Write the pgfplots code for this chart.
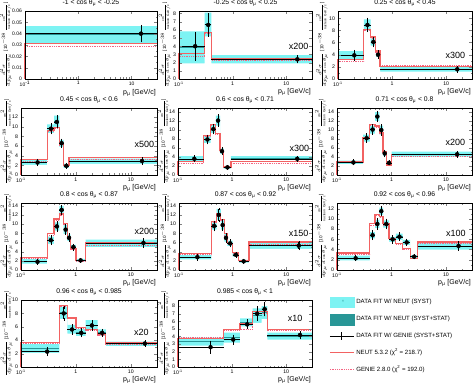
\documentclass[border=0pt]{standalone}
\usepackage{pgfplots}
\pgfplotsset{compat=1.18}
\usepackage{pgfplotstable}
\usepackage{fontspec}
\setmainfont{Liberation Sans}
\definecolor{cyanbox}{RGB}{125,243,243}
\definecolor{tealbox}{RGB}{40,150,150}
\definecolor{neutred}{RGB}{242,98,98}
\definecolor{geniered}{RGB}{245,100,130}

% columns: x (bin low edge) neut genie hi lo g  ; first row = start of red step at 0
\pgfplotstableread{
x neut genie hi lo g
0.1 0 0 nan nan nan
0.1 0.0315 0.0285 0.0467 0.0322 0.040
30 0.0315 0.0285 0.0467 0.0322 0.040
}\tA
\pgfplotstableread{
px g e
15 0.040 0.0066
}\pA
\pgfplotstableread{
x neut genie hi lo g
0.1 0 0 nan nan nan
0.1 3.1 2.7 5.8 1.9 4.0
0.3 5.7 5.6 8.1 5.2 6.7
0.4 2.5 2.3 2.9 1.9 2.4
30 2.5 2.3 2.9 1.9 2.4
}\tB
\pgfplotstableread{
px g e
0.2 4.0 1.6
0.35 6.6 1.3
16 2.4 0.35
}\pB
\pgfplotstableread{
x neut genie hi lo g
0.1 0 0 nan nan nan
0.1 3.2 2.9 4.6 3.1 3.9
0.3 8.2 8.0 9.8 8.0 8.9
0.4 6.9 6.7 6.7 5.5 6.1
0.5 4.6 4.4 4.5 3.6 4.0
0.6 2.1 2.2 2.0 1.2 1.6
30 2.1 2.2 2.0 1.2 1.6
}\tC
\pgfplotstableread{
px g e
0.2 3.9 0.7
0.35 8.9 1.0
0.45 6.1 0.7
0.55 4.0 0.5
16 1.6 0.35
}\pC
\pgfplotstableread{
x neut genie hi lo g
0.1 0 0 nan nan nan
0.1 3.2 2.9 3.1 2.1 2.6
0.3 9.2 9.0 10.5 8.7 9.6
0.4 9.9 9.7 12.3 10.0 11.0
0.5 6.3 6.1 7.3 5.8 6.6
0.6 1.9 1.8 2.3 1.5 1.9
0.75 3.6 3.3 3.4 2.3 2.9
30 3.6 3.3 3.4 2.3 2.9
}\tD
\pgfplotstableread{
px g e
0.2 2.6 0.5
0.35 9.6 0.9
0.45 11.0 1.1
0.55 6.6 0.7
0.67 1.9 0.35
16 2.9 0.5
}\pD
\pgfplotstableread{
x neut genie hi lo g
0.1 0 0 nan nan nan
0.1 3.0 2.6 4.2 2.9 3.6
0.3 8.8 8.5 8.8 7.1 7.9
0.4 11.3 11.0 11.1 9.3 10.2
0.5 9.3 9.0 13.2 11.0 12.1
0.6 5.5 5.3 5.9 4.7 5.3
0.7 1.8 1.7 2.0 1.4 1.7
0.95 3.0 2.5 4.2 3.3 3.6
30 3.0 2.5 4.2 3.3 3.6
}\tE
\pgfplotstableread{
px g e
0.2 3.6 0.5
0.35 7.9 0.8
0.45 10.2 0.9
0.55 12.1 1.1
0.65 5.3 0.6
0.82 1.7 0.3
16 3.6 0.4
}\pE
\pgfplotstableread{
x neut genie hi lo g
0.1 0 0 nan nan nan
0.1 2.9 2.7 3.2 2.4 2.8
0.3 8.4 8.2 9.0 7.4 8.2
0.4 11.3 11.0 11.0 9.2 10.1
0.5 10.9 10.6 14.0 12.0 13.0
0.6 9.5 9.2 11.0 9.0 10.0
0.7 5.1 5.0 5.4 4.2 4.8
0.8 2.2 2.1 3.0 2.4 2.7
1.0 4.5 4.1 5.2 4.1 4.6
30 4.5 4.1 5.2 4.1 4.6
}\tF
\pgfplotstableread{
px g e
0.2 2.8 0.4
0.35 8.2 0.8
0.45 10.1 0.9
0.55 13.0 1.0
0.65 10.0 1.0
0.75 4.8 0.6
0.9 2.7 0.3
16 4.6 0.5
}\pF
\pgfplotstableread{
x neut genie hi lo g
0.1 0 0 nan nan nan
0.1 2.7 2.5 2.4 1.4 1.8
0.3 7.9 7.6 7.3 5.7 6.5
0.4 11.1 10.8 10.4 8.6 9.5
0.5 12.2 12.0 14.0 12.2 13.1
0.6 10.2 10.0 9.8 7.8 8.8
0.7 7.3 7.1 7.7 6.3 7.0
0.8 4.7 4.5 5.5 4.5 5.0
1.0 2.0 1.9 2.4 1.8 2.1
1.5 6.0 5.4 6.6 5.0 5.9
30 6.0 5.4 6.6 5.0 5.9
}\tG
\pgfplotstableread{
px g e
0.2 1.8 0.4
0.35 6.5 0.8
0.45 9.5 0.9
0.55 13.1 0.9
0.65 8.8 0.9
0.75 7.0 0.7
0.9 5.0 0.5
1.22 2.1 0.3
17 5.9 0.8
}\pG
\pgfplotstableread{
x neut genie hi lo g
0.1 0 0 nan nan nan
0.1 3.6 3.3 3.3 2.3 2.8
0.4 10.6 10.3 10.4 8.8 9.6
0.5 12.2 12.0 13.3 10.9 12.0
0.6 11.0 10.7 10.8 8.8 9.8
0.7 7.9 7.6 7.8 6.2 7.0
0.8 5.8 5.6 6.4 5.2 5.8
1.0 3.8 3.7 3.7 2.9 3.3
1.3 2.0 1.9 2.2 1.6 1.9
2.0 6.1 5.6 6.0 4.6 5.3
30 6.1 5.6 6.0 4.6 5.3
}\tH
\pgfplotstableread{
px g e
0.22 2.8 0.5
0.45 9.6 0.9
0.55 12.0 1.3
0.65 9.8 1.0
0.75 7.0 0.8
0.9 5.8 0.6
1.15 3.3 0.4
1.6 1.9 0.3
17 5.3 0.7
}\pH
\pgfplotstableread{
x neut genie hi lo g
0.1 0 0 nan nan nan
0.1 3.3 3.1 2.8 1.9 2.3
0.4 9.1 8.8 7.4 6.2 6.8
0.5 10.9 10.6 9.8 8.2 9.0
0.6 10.5 10.2 12.2 10.8 11.5
0.7 9.1 8.8 9.7 8.3 9.0
0.9 6.2 6.0 6.5 5.5 6.0
1.2 5.2 5.0 7.1 5.9 6.5
1.6 4.2 4.1 5.9 4.9 5.4
2.2 2.3 2.3 2.9 2.3 2.6
3.0 5.5 5.2 5.4 4.0 4.7
30 5.5 5.2 5.4 4.0 4.7
}\tI
\pgfplotstableread{
px g e
0.22 2.3 0.35
0.45 6.8 0.7
0.55 9.0 0.9
0.65 11.5 0.8
0.8 9.0 0.8
1.05 6.0 0.6
1.4 6.5 0.6
1.9 5.4 0.5
2.6 2.6 0.3
17 4.7 0.7
}\pI
\pgfplotstableread{
x neut genie hi lo g
0.1 0 0 nan nan nan
0.1 3.7 3.5 3.4 2.1 2.3
0.5 9.2 9.0 9.0 7.2 8.0
0.7 7.3 7.2 6.3 5.0 5.6
1.0 5.9 5.8 5.7 4.6 5.1
1.5 5.6 5.5 7.0 5.5 6.2
2.5 4.8 4.7 5.6 4.6 5.1
3.5 3.6 3.4 3.8 3.1 3.5
30 3.6 3.4 3.8 3.1 3.5
}\tJ
\pgfplotstableread{
px g e
0.3 2.3 0.5
0.6 8.0 0.9
0.85 5.6 0.6
1.25 5.1 0.5
1.95 6.2 0.6
3.0 5.1 0.4
18 3.5 0.3
}\pJ
\pgfplotstableread{
x neut genie hi lo g
0.1 0 0 nan nan nan
0.1 3.7 3.9 3.85 2.8 2.6
0.7 4.9 4.8 4.5 3.2 3.6
1.4 5.75 5.0 6.4 5.35 5.6
2.4 7.25 7.1 7.7 5.8 7.0
3.5 7.25 7.1 8.0 6.3 7.6
4.5 4.9 4.8 4.5 3.6 4.2
30 4.9 4.8 4.5 3.6 4.2
}\tK
\pgfplotstableread{
px g e
0.4 2.6 0.7
1.05 3.6 0.5
1.9 5.6 0.5
2.9 7.0 0.8
4.0 7.6 0.8
18 4.2 0.4
}\pK

\newcommand\beginpanel[1]{%
\begin{axis}[scale only axis, anchor=north west, xmode=log, xmin=0.1, xmax=30, ymin=0,
    axis on top, scaled y ticks=false, clip=false,
    xtick={0.1,1,10}, xticklabels={10\textsuperscript{-1},1,10},
    minor xtick={0.2,0.3,0.4,0.5,0.6,0.7,0.8,0.9,2,3,4,5,6,7,8,9,20,30},
    xtick pos=both, ytick pos=both,
    tick align=inside, major tick length=3pt, minor tick length=1.5pt,
    minor y tick num=1,
    tick label style={font=\fontsize{5.2}{6}\selectfont},
    xticklabel style={yshift=1pt},
    yticklabel style={xshift=0.5pt},
    /pgf/number format/assume math mode=true,
    axis line style={line width=0.5pt},
    title style={font=\fontsize{6.8}{7}\selectfont, yshift=-4.5pt},
    xlabel={p\textsubscript{μ} [GeV/c]},
    xlabel style={font=\fontsize{7}{8}\selectfont, at={(ticklabel cs:1)}, anchor=north east, inner sep=1pt, yshift=2pt},
    #1]}
\newcommand\fac[2]{\node[font=\fontsize{9}{10}\selectfont, anchor=east, inner sep=0pt] at (rel axis cs:#1) {#2};}
\newcommand\ylab[1]{\node[rotate=90, anchor=south, inner sep=0pt, font=\fontsize{4.6}{5}\selectfont] at (axis description cs:#1,0.5)
  {$\frac{d^{2}\sigma}{dp_{\mu}\,d\cos\theta_{\mu}}$ [10$^{-38}$ $\frac{\mathrm{cm}^{2}}{\mathrm{nucleon\;GeV/c}}$]};}

\newcommand\drawpanel[2]{%
  \addplot[ybar interval, fill=cyanbox, draw=none, skip coords between index={0}{1}] table[x=x,y=hi]{#1};
  \addplot[ybar interval, fill=white, draw=none, skip coords between index={0}{1}] table[x=x,y=lo]{#1};
  \addplot[tealbox, line width=0.9pt, jump mark left, skip coords between index={0}{1}] table[x=x,y expr=(\thisrow{hi}+\thisrow{lo})/2]{#1};
  \addplot[geniered, densely dotted, line width=0.8pt, const plot] table[x=x,y=genie]{#1};
  \addplot[neutred, line width=1.3pt, const plot] table[x=x,y=neut]{#1};
  \addplot[black, line width=0.5pt, jump mark left, skip coords between index={0}{1}] table[x=x,y=g]{#1};
  \addplot[black, only marks, mark=none, error bars/.cd, y dir=both, y explicit, error mark=-, error mark options={black, mark size=1.2pt, line width=0.4pt}, error bar style={line width=0.6pt}] table[x=px,y=g,y error=e]{#2};
}

\begin{document}
\begin{tikzpicture}
\useasboundingbox (0,0) rectangle (474pt,-385pt);

% Row 1
\beginpanel{at={(25pt,-11pt)}, width=132pt, height=68pt,
  ymax=0.06, ytick={0,0.01,0.02,0.03,0.04,0.05,0.06}, yticklabels={0,0.01,0.02,0.03,0.04,0.05,0.06},
  tick label style={font=\fontsize{5}{6}\selectfont},
  title={-1 < cos θ\textsubscript{μ} < -0.25}}
\drawpanel{\tA}{\pA}
\ylab{-0.098}
\end{axis}

\beginpanel{at={(179pt,-11pt)}, width=133pt, height=68pt,
  ymax=8.3, ytick={0,1,...,8}, minor y tick num=0,
  title={-0.25 < cos θ\textsubscript{μ} < 0.25}}
\drawpanel{\tB}{\pB}
\fac{0.975,0.48}{x200}
\ylab{-0.06}
\end{axis}

\beginpanel{at={(338pt,-11pt)}, width=134pt, height=68pt,
  ymax=11.2, ytick={0,2,...,10},
  title={0.25 < cos θ\textsubscript{μ} < 0.45}}
\drawpanel{\tC}{\pC}
\fac{0.95,0.35}{x300}
\ylab{-0.072}
\end{axis}

% Row 2
\beginpanel{at={(21pt,-108pt)}, width=136pt, height=67pt,
  ymax=13.9, ytick={0,2,...,12},
  title={0.45 < cos θ\textsubscript{μ} < 0.6}}
\drawpanel{\tD}{\pD}
\fac{0.98,0.45}{x500}
\ylab{-0.06}
\end{axis}

\beginpanel{at={(178pt,-108pt)}, width=134pt, height=67pt,
  ymax=14.9, ytick={0,2,...,14},
  title={0.6 < cos θ\textsubscript{μ} < 0.71}}
\drawpanel{\tE}{\pE}
\fac{0.98,0.40}{x300}
\ylab{-0.06}
\end{axis}

\beginpanel{at={(337pt,-108pt)}, width=135pt, height=67pt,
  ymax=14.9, ytick={0,2,...,14},
  title={0.71 < cos θ\textsubscript{μ} < 0.8}}
\drawpanel{\tF}{\pF}
\fac{0.95,0.49}{x200}
\ylab{-0.072}
\end{axis}

% Row 3
\beginpanel{at={(21pt,-203pt)}, width=136pt, height=67pt,
  ymax=14.6, ytick={0,2,...,14},
  title={0.8 < cos θ\textsubscript{μ} < 0.87}}
\drawpanel{\tG}{\pG}
\fac{0.98,0.57}{x200}
\ylab{-0.06}
\end{axis}

\beginpanel{at={(179pt,-203pt)}, width=133pt, height=67pt,
  ymax=14.6, ytick={0,2,...,14},
  title={0.87 < cos θ\textsubscript{μ} < 0.92}}
\drawpanel{\tH}{\pH}
\fac{0.975,0.55}{x150}
\ylab{-0.06}
\end{axis}

\beginpanel{at={(337pt,-203pt)}, width=135pt, height=67pt,
  ymax=13.1, ytick={0,2,...,12},
  title={0.92 < cos θ\textsubscript{μ} < 0.96}}
\drawpanel{\tI}{\pI}
\fac{0.955,0.55}{x100}
\ylab{-0.072}
\end{axis}

% Row 4
\beginpanel{at={(21pt,-300pt)}, width=136pt, height=67pt,
  ymax=10, ytick={0,2,...,10},
  title={0.96 < cos θ\textsubscript{μ} < 0.985}}
\drawpanel{\tJ}{\pJ}
\fac{0.94,0.52}{x20}
\ylab{-0.06}
\end{axis}

\beginpanel{at={(178pt,-300pt)}, width=134pt, height=67pt,
  ymax=8.8, ytick={0,1,...,8}, minor y tick num=0,
  title={0.985 < cos θ\textsubscript{μ} < 1}}
\drawpanel{\tK}{\pK}
\fac{0.93,0.73}{x10}
\ylab{-0.06}
\end{axis}

% Legend
\begin{axis}[at={(329pt,-297pt)}, anchor=north west, scale only axis, width=140pt, height=78pt,
  hide axis, xmin=0, xmax=1, ymin=0, ymax=1, legend cell align=left,
  legend style={at={(0,1)}, anchor=north west, draw=none, fill=none, inner sep=0pt,
    font=\fontsize{6.1}{7}\selectfont, row sep=6.0pt}]
\addlegendimage{legend image code/.code={\fill[cyanbox] (0pt,-5pt) rectangle (24pt,5pt);
  \node[text=tealbox, font=\fontsize{4}{4}\selectfont, inner sep=0pt] at (12pt,0pt) {×};}}
\addlegendentry{DATA FIT W/ NEUT (SYST)}
\addlegendimage{legend image code/.code={\fill[tealbox] (0pt,-5.5pt) rectangle (24pt,5.5pt);}}
\addlegendentry{DATA FIT W/ NEUT (SYST+STAT)}
\addlegendimage{legend image code/.code={\draw[black, line width=0.6pt] (0pt,0pt) -- (24pt,0pt); \draw[black, line width=0.6pt] (12pt,-4pt) -- (12pt,4pt);}}
\addlegendentry{DATA FIT W/ GENIE (SYST+STAT)}
\addlegendimage{legend image code/.code={\draw[neutred, line width=1.1pt] (0pt,0pt) -- (24pt,0pt);}}
\addlegendentry{NEUT 5.3.2 (χ\textsuperscript{2} = 218.7)}
\addlegendimage{legend image code/.code={\draw[geniered, densely dotted, line width=0.8pt] (0pt,0pt) -- (24pt,0pt);}}
\addlegendentry{GENIE 2.8.0 (χ\textsuperscript{2} = 192.0)}
\end{axis}
\end{tikzpicture}
\end{document}
